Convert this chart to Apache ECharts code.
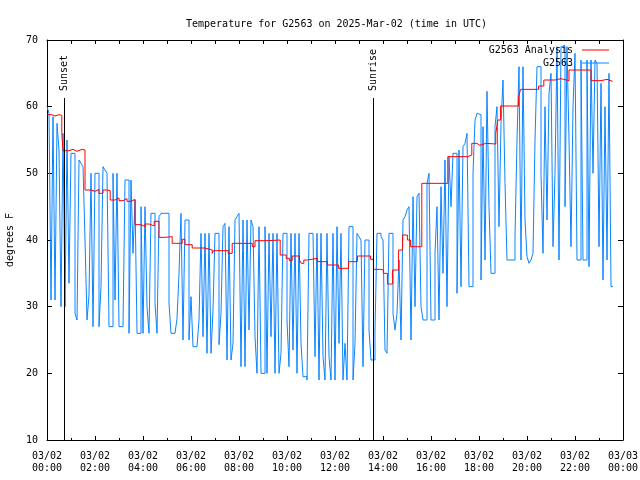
<!DOCTYPE html>
<html><head><meta charset="utf-8">
<script src="https://cdn.jsdelivr.net/npm/echarts@6/dist/echarts.min.js"></script>
<style>html,body{margin:0;padding:0;background:#fff}#c{width:640px;height:480px}</style>
</head><body><div id="c"></div>
<script>
const titleText = 'Temperature for G2563 on 2025-Mar-02 (time in UTC)';
const yAxisName = 'degrees F';
const seriesNames = ['G2563 Analysis', 'G2563'];
// G2563 observations, one value every 5 minutes from 03/02 00:00 UTC
const blueStepMin = 5;
const blueValues = [
  60, 59, 31, 58.5, 31, 57.5, 53.5, 30, 56, 30, 55, 33.5,
  53, 53, 29, 28, 52, 51.5, 51, 40, 28, 31.7, 50, 27,
  50, 50, 27, 33, 51, 50.5, 50, 27, 27, 50, 31, 50,
  27, 27, 27, 49, 49, 26, 49, 38, 46, 26, 26, 45,
  26, 45, 30, 26, 44, 44, 30.5, 26, 43.5, 44, 44, 44,
  44, 30.5, 26, 26, 26, 28.2, 35, 44, 25, 43, 43, 25,
  31.5, 24, 24, 24, 28, 41, 25.5, 41, 23, 41, 23, 29.5,
  41, 41, 24.3, 29, 42, 42.5, 22, 42, 22, 24.5, 43, 43.5,
  44, 21, 43, 21, 43, 26.5, 43, 42, 25.5, 20, 42, 20,
  20, 42, 20, 41, 25.5, 41, 20, 41, 20, 23, 41, 41,
  28, 21, 41, 23.5, 41, 20, 41, 24.5, 19.5, 19.5, 19, 41,
  41, 41, 22.5, 41, 19, 41, 22.5, 19, 41, 22.5, 19, 41,
  19, 42, 24.5, 41, 19, 24.5, 19, 42, 42, 19, 24.5, 41,
  40.5, 40, 21, 40, 40, 26.5, 22, 22, 26.5, 41, 41, 40.5,
  40, 23.5, 23, 41, 41, 29, 26.5, 29, 37, 25, 43, 43.5,
  44.5, 45, 25, 46.5, 30, 46.5, 47, 30, 28, 28, 48.5, 50,
  28, 28, 38, 45, 28, 48, 35, 52, 30, 52.5, 45, 53,
  53, 32, 53.5, 33, 54, 54.5, 56, 33, 33, 50, 58, 59,
  58.8, 34, 57, 37, 62.3, 45, 35, 35, 57, 60, 42, 57.5,
  64, 48.5, 37, 37, 37, 37, 40.5, 55, 66, 37, 66, 43,
  37.5, 36.5, 37, 38, 55, 66, 66, 50, 38, 60, 43, 62,
  65, 39, 50, 69, 37, 69, 69, 45, 69, 55, 39, 60,
  68, 37, 37, 67, 37, 37, 67, 36, 67, 50, 67, 66.5,
  39, 63.5, 34, 60, 37, 65, 33, 33
];
// Analysis: minutes after 03/02 00:00 UTC and values
const redTimes = [0, 12, 20, 30, 37, 40, 55, 65, 75, 88, 95, 110, 120, 130, 140, 150, 158, 170, 180, 190, 200, 210,
  220, 235, 245, 255, 268, 280, 295, 313, 338, 345, 363, 395, 413, 416, 453, 463, 513, 520, 553,
  583, 598, 606, 613, 631, 636, 642, 651, 676, 701, 729, 754, 776, 809, 816, 835, 841, 851, 864,
  879, 889, 901, 909, 926, 937, 1002, 1052, 1062, 1075, 1082, 1097, 1122, 1127, 1134, 1179, 1184,
  1229, 1242, 1270, 1285, 1305, 1360, 1385, 1400, 1414];
const redValues = [58.8, 58.6, 58.8, 58.7, 56, 53.4, 53.6, 53.3, 53.6, 53.5, 47.5, 47.3, 47.6, 47.0, 47.5, 47.4, 46.0, 46.3, 45.9, 46.2, 45.8, 46.1,
  42.3, 42.0, 42.4, 42.1, 42.8, 40.4, 40.5, 39.5, 40.1, 39.3, 38.8, 38.5, 38.0, 38.4, 38.0, 39.5, 39.0, 39.9, 40.0,
  37.75, 37.25, 36.9, 37.6, 37.0, 36.5, 37.0, 37.25, 36.75, 36.25, 35.75, 36.75, 37.6, 37.1, 35.6, 35.5, 35.0, 33.4, 35.5,
  38.5, 40.75, 40.0, 39.0, 39.0, 48.5, 52.5, 52.75, 54.5, 54.2, 54.5, 54.4, 56, 58, 60.1, 61.5, 62.6,
  63.1, 64, 64.2, 63.9, 65.5, 63.9, 64.1, 63.8, 63.9];
const sunEventNames = ['Sunset', 'Sunrise'];
const sunEventMinutes = [44, 816];
const sunLineTop = 61.3;
const yMin = 10, yMax = 70, yStep = 10;
const xMin = 0, xMax = 1440, xStep = 120;

const FONT = 'DejaVu Sans Mono';
function pad(n){ return (n < 10 ? '0' : '') + n; }
function timeLabel(m){
  const day = m >= 1440 ? '03/03' : '03/02';
  const h = Math.floor(m / 60) % 24;
  return day + '\n' + pad(h) + ':00';
}
const chart = echarts.init(document.getElementById('c'), null, {renderer: 'canvas'});
const axisLineStyle = {color: '#000', width: 1};
const legendCommon = {orient: 'vertical', align: 'right', icon: 'rect', itemWidth: 27, itemHeight: 1, padding: 0,
  textStyle: {fontFamily: FONT, fontSize: 10, color: '#000', padding: [0, 4, 0, 0]}, selectedMode: false};
chart.setOption({
  animation: false,
  backgroundColor: '#fff',
  title: {text: titleText, left: 181, top: 14, textStyle: {fontFamily: FONT, fontSize: 10, fontWeight: 'normal', color: '#000'}},
  legend: [
    Object.assign({data: [seriesNames[0]], right: 31, top: 45}, legendCommon),
    Object.assign({data: [seriesNames[1]], right: 31, top: 58}, legendCommon)
  ],
  grid: {left: 47, right: 17, top: 40, bottom: 40, containLabel: false, outerBoundsMode: 'none'},
  xAxis: [
    {type: 'value', min: xMin, max: xMax, interval: xStep,
      axisLine: {show: true, onZero: false, lineStyle: axisLineStyle},
      axisTick: {show: true, inside: true, length: 4, lineStyle: axisLineStyle},
      minorTick: {show: true, splitNumber: 2, length: 2, lineStyle: axisLineStyle},
      splitLine: {show: false},
      axisLabel: {formatter: timeLabel, fontFamily: FONT, fontSize: 10, color: '#000', lineHeight: 12, margin: 10, showMaxLabel: true, showMinLabel: true}},
    {type: 'value', position: 'top', min: xMin, max: xMax, interval: 60,
      axisLine: {show: true, onZero: false, lineStyle: axisLineStyle},
      axisTick: {show: true, inside: true, length: 4, lineStyle: axisLineStyle},
      axisLabel: {show: false}, splitLine: {show: false}}
  ],
  yAxis: [
    {type: 'value', min: yMin, max: yMax, interval: yStep, name: yAxisName, nameLocation: 'middle', nameGap: 30, nameRotate: 90,
      nameTextStyle: {fontFamily: FONT, fontSize: 10, color: '#000'},
      axisLine: {show: true, onZero: false, lineStyle: axisLineStyle},
      axisTick: {show: true, inside: true, length: 5, lineStyle: axisLineStyle},
      splitLine: {show: false},
      axisLabel: {fontFamily: FONT, fontSize: 10, color: '#000', margin: 9}},
    {type: 'value', position: 'right', min: yMin, max: yMax, interval: yStep,
      axisLine: {show: true, onZero: false, lineStyle: axisLineStyle},
      axisTick: {show: true, inside: true, length: 5, lineStyle: axisLineStyle},
      splitLine: {show: false}, axisLabel: {show: false}}
  ],
  series: [
    {name: seriesNames[0], type: 'line', step: 'end', symbol: 'none', z: 4,
      data: redTimes.map((t, i) => [t, redValues[i]]),
      lineStyle: {color: '#ff0000', width: 1}, itemStyle: {color: '#ff0000'}},
    {name: seriesNames[1], type: 'line', step: 'end', symbol: 'none', z: 3,
      data: blueValues.map((v, i) => [i * blueStepMin, v]),
      lineStyle: {color: '#0a84ff', width: 1}, itemStyle: {color: '#0a84ff'},
      markLine: {silent: true, symbol: ['none', 'none'],
        lineStyle: {color: '#000', width: 1, type: 'solid'},
        label: {show: true, position: 'end', formatter: '{b}', rotate: 90, align: 'left', verticalAlign: 'middle', distance: 7, color: '#000', fontFamily: FONT, fontSize: 10},
        data: sunEventMinutes.map((m, i) => [{coord: [m, yMin], name: sunEventNames[i]}, {coord: [m, sunLineTop]}])}}
  ]
});
</script></body></html>
